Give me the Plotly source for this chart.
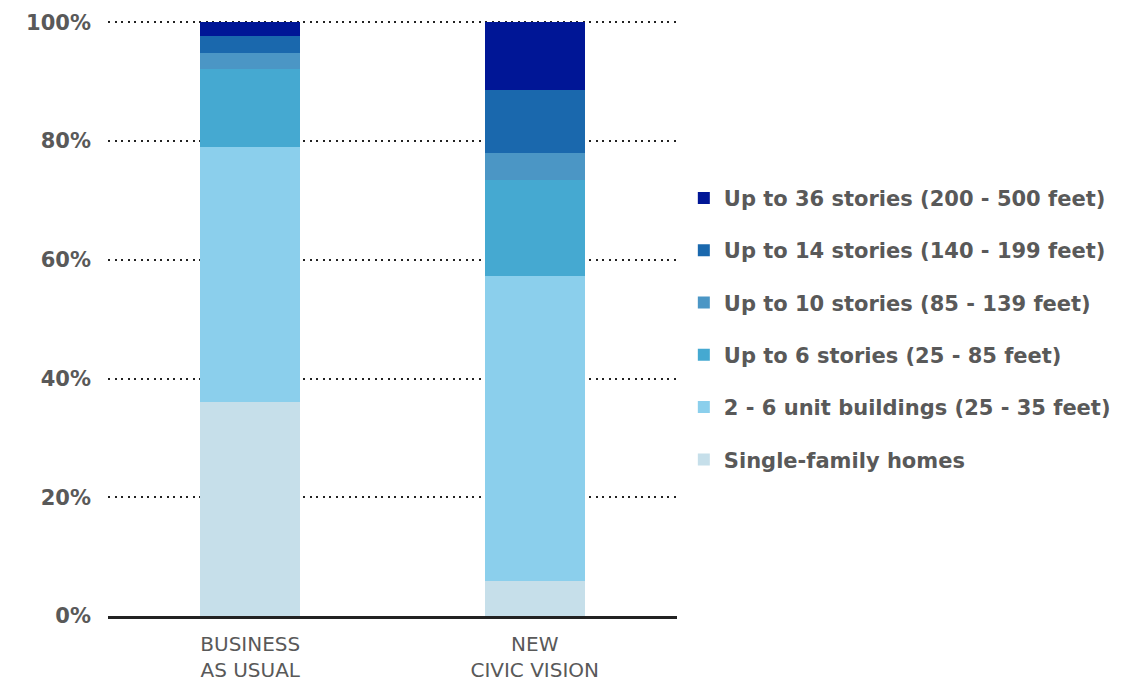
import plotly.graph_objects as go

categories = ["BUSINESS<br>AS USUAL", "NEW<br>CIVIC VISION"]

single_family = [36.0, 5.9]
unit_2_6 = [43.0, 51.4]
up_to_6 = [13.2, 16.2]
up_to_10 = [2.7, 4.5]
up_to_14 = [2.8, 10.6]
up_to_36 = [2.3, 11.4]

series = [
    ("Single-family homes", single_family, "#C6DFEA"),
    ("2 - 6 unit buildings (25 - 35 feet)", unit_2_6, "#8BCFEC"),
    ("Up to 6 stories (25 - 85 feet)", up_to_6, "#45A9D1"),
    ("Up to 10 stories (85 - 139 feet)", up_to_10, "#4B96C5"),
    ("Up to 14 stories (140 - 199 feet)", up_to_14, "#1A68AD"),
    ("Up to 36 stories (200 - 500 feet)", up_to_36, "#001696"),
]

tick_vals = [0, 20, 40, 60, 80, 100]
tick_text = ["0%", "20%", "40%", "60%", "80%", "100%"]

grey = "#595959"

fig = go.Figure()
for i, (name, vals, col) in enumerate(series):
    fig.add_trace(go.Bar(
        x=categories,
        y=vals,
        name=name,
        legendgroup=name,
        legendrank=len(series) - i,
        marker=dict(color=col, line=dict(width=0)),
    ))

# page body adds an 8px offset, so the figure is a bit smaller than the window
fig.update_layout(
    barmode="stack",
    bargap=0.65,
    width=1138,
    height=676,
    margin=dict(l=100, r=469, t=12, b=68, autoexpand=False),
    plot_bgcolor="white",
    paper_bgcolor="white",
    font=dict(family="DejaVu Sans, sans-serif", color=grey),
    legend=dict(
        traceorder="grouped",
        x=1.012,
        xanchor="left",
        y=0.482,
        yanchor="middle",
        tracegroupgap=22,
        font=dict(family="DejaVu Sans", size=21, color=grey, weight="bold"),
    ),
    xaxis=dict(
        automargin=False,
        showline=True,
        linecolor="#222222",
        linewidth=3,
        showgrid=False,
        tickfont=dict(family="DejaVu Sans", size=20, color=grey),
        ticklabelstandoff=8,
    ),
    yaxis=dict(
        automargin=False,
        range=[0, 100.4],
        tickvals=tick_vals,
        ticktext=tick_text,
        showgrid=True,
        gridcolor="#222222",
        gridwidth=2,
        griddash="2px,4.5px",
        zeroline=False,
        showline=False,
        tickfont=dict(family="DejaVu Sans", size=21, color=grey, weight="bold"),
        ticklabelstandoff=16,
    ),
)

fig.write_html("out.html")
